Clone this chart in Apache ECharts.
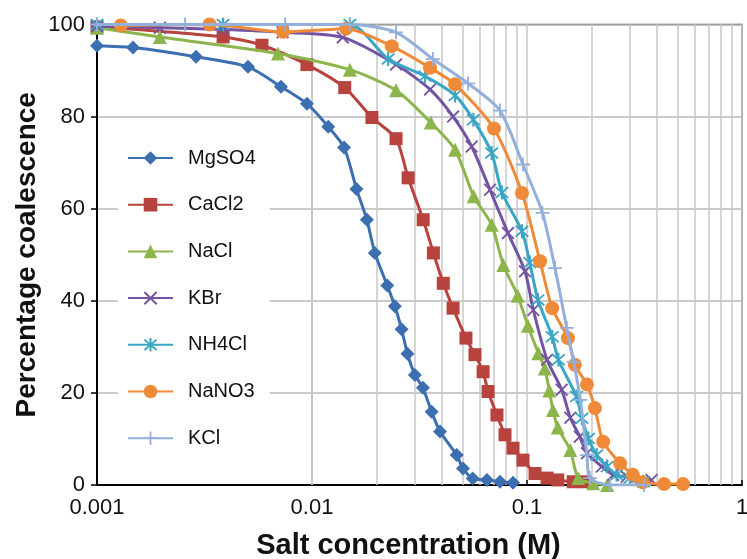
<!DOCTYPE html>
<html>
<head>
<meta charset="utf-8">
<script src="https://cdn.jsdelivr.net/npm/echarts@6/dist/echarts.min.js"></script>
<style>
html,body{margin:0;padding:0;background:#fff;}
#chart{width:747px;height:559px;}
</style>
</head>
<body>
<div id="chart"></div>
<script>
// ---------- data (concentration M, % coalescence) ----------
const seriesNames = ['MgSO4', 'CaCl2', 'NaCl', 'KBr', 'NH4Cl', 'NaNO3', 'KCl'];

const mgso4 = [[0.001,95.4],[0.00147,95.0],[0.00289,93.0],[0.00504,90.8],[0.00717,86.5],[0.00947,82.8],
  [0.0119,77.8],[0.0141,73.3],[0.0161,64.3],[0.018,57.6],[0.0196,50.4],[0.0224,43.3],[0.0243,38.8],
  [0.0261,33.8],[0.0278,28.5],[0.0301,23.9],[0.0328,21.1],[0.036,15.9],[0.0394,11.6],[0.0471,6.5],
  [0.0504,3.6],[0.0559,1.4],[0.0651,1.1],[0.0749,0.7],[0.0861,0.5]];

const cacl2 = [[0.001,99.5],[0.00386,97.3],[0.00585,95.5],[0.00947,91.3],[0.0142,86.3],[0.019,79.8],
  [0.0246,75.2],[0.028,66.7],[0.0329,57.6],[0.0367,50.4],[0.0408,43.8],[0.0453,38.4],[0.052,31.9],
  [0.0573,28.3],[0.0625,24.6],[0.0659,20.3],[0.0725,15.2],[0.079,10.9],[0.0861,8.0],[0.0958,5.4],
  [0.109,2.5],[0.124,1.5],[0.139,1.1],[0.164,0.7],[0.186,0.7]];

const nacl = [[0.001,99.3],[0.00196,97.3],[0.00695,93.7],[0.015,90.2],[0.0246,85.7],[0.0357,78.7],
  [0.0463,72.8],[0.0565,62.7],[0.0685,56.5],[0.0776,47.8],[0.0905,41.1],[0.101,34.6],[0.113,28.6],
  [0.121,25.3],[0.127,20.5],[0.132,16.3],[0.139,12.5],[0.159,7.6],[0.173,1.5],[0.203,0.4],[0.236,0]];

const kbr = [[0.001,99.6],[0.00196,99.3],[0.00386,98.9],[0.0073,98.3],[0.0139,97.2],[0.0246,91.3],
  [0.0354,85.9],[0.0453,80.0],[0.0553,73.5],[0.0673,64.1],[0.0816,54.7],[0.0979,46.4],[0.107,38.0],
  [0.124,27.2],[0.145,20.7],[0.159,14.6],[0.176,10.5],[0.19,6.9],[0.223,4.0],[0.252,2.2],[0.291,1.8],
  [0.38,1.1]];

const nh4cl = [[0.001,100],[0.00386,100],[0.015,100],[0.0226,92.5],[0.0335,88.8],[0.0463,84.6],
  [0.0563,79.3],[0.0685,72.1],[0.0765,63.5],[0.0948,55.1],[0.103,48.3],[0.1125,40.2],[0.131,32.2],
  [0.14,27.2],[0.17,19.2],[0.18,14.5],[0.193,10.1],[0.211,6.5],[0.236,4.0],[0.261,2.2],[0.301,1.5],
  [0.348,0.7]];

const nano3 = [[0.00129,99.8],[0.00334,100],[0.00733,98.4],[0.0144,99.1],[0.0235,95.3],[0.0354,90.6],
  [0.0463,87.0],[0.0702,77.4],[0.0948,63.4],[0.115,48.6],[0.131,38.4],[0.155,31.9],[0.167,26.1],
  [0.19,21.8],[0.207,16.7],[0.226,9.4],[0.271,4.7],[0.311,2.2],[0.345,0.6],[0.434,0.2],[0.532,0.2]];

const kcl = [[0.001,100],[0.00257,100],[0.0075,100],[0.015,100],[0.0246,98.3],[0.0365,92.5],
  [0.0532,87.2],[0.0749,81.3],[0.0958,69.6],[0.118,59.1],[0.135,47.1],[0.153,34.1],[0.165,26.7],
  [0.177,18.5],[0.19,6.5],[0.196,1.5],[0.243,0],[0.35,0]];

const xTickLabels = ['0.001', '0.01', '0.1', '1'];
const yTickLabels = ['0', '20', '40', '60', '80', '100'];
const minorGridValues = [0.002,0.003,0.004,0.005,0.006,0.007,0.008,0.009,
  0.02,0.03,0.04,0.05,0.06,0.07,0.08,0.09,0.2,0.3,0.4,0.5,0.6,0.7,0.8,0.9];

// ---------- styling ----------
const colors = ['#3c6fb0', '#b8423d', '#8cb54c', '#7353a2', '#3ba6c4', '#ef8a38', '#93afdc'];
const symX = 'path://M-6,-4.8L-4.8,-6L6,4.8L4.8,6Z M-4.8,6L-6,4.8L4.8,-6L6,-4.8Z';
const symAst = 'path://M-0.9,-7H0.9V7H-0.9Z M-6,-4.8L-4.8,-6L6,4.8L4.8,6Z M-4.8,6L-6,4.8L4.8,-6L6,-4.8Z';
const symPlus = 'path://M-0.9,-7H0.9V-0.9H7V0.9H0.9V7H-0.9V0.9H-7V-0.9H-0.9Z';
const symbols = ['diamond', 'rect', 'triangle', symX, symAst, 'circle', symPlus];
const symSizes = [14, 13, 14, 13, 14, 14, 14];
const dataSets = [mgso4, cacl2, nacl, kbr, nh4cl, nano3, kcl];
const FONT = '"Liberation Sans", Arial, sans-serif';

const series = seriesNames.map((name, i) => ({
  name: name,
  type: 'line',
  data: dataSets[i],
  smooth: 0.25,
  symbol: symbols[i],
  symbolSize: symSizes[i],
  showAllSymbol: true,
  lineStyle: { color: colors[i], width: 3 },
  itemStyle: { color: colors[i] },
  z: 3 + i * 0.01
}));

// minor vertical grid lines placed through the log axis
series.push({
  name: 'minorGrid',
  type: 'line',
  data: [],
  silent: true,
  markLine: {
    silent: true,
    symbol: 'none',
    z: 1,
    animation: false,
    label: { show: false },
    lineStyle: { color: '#c9c9c9', type: 'solid', width: 1.5 },
    data: minorGridValues.map(v => ({ xAxis: v }))
  }
});

const chart = echarts.init(document.getElementById('chart'));
chart.setOption({
  animation: false,
  backgroundColor: '#fff',
  textStyle: { fontFamily: FONT },
  grid: {
    left: 97, right: 5, top: 24.5, bottom: 74,
    outerBoundsMode: 'none', containLabel: false,
    show: true, borderColor: '#555', borderWidth: 1.5, backgroundColor: 'transparent'
  },
  legend: {
    data: seriesNames,
    orient: 'vertical',
    left: 118, top: 125,
    backgroundColor: '#fff',
    padding: [23, 14, 15, 9],
    itemWidth: 45, itemHeight: 17, itemGap: 26.7,
    textStyle: { fontSize: 20, color: '#111', fontFamily: FONT, lineHeight: 20, padding: [0, 0, 0, 10] }
  },
  xAxis: {
    type: 'log', logBase: 10, min: 0.001, max: 1,
    name: 'Salt concentration (M)', nameLocation: 'middle', nameGap: 46,
    nameMoveOverlap: false,
    nameTextStyle: { fontSize: 29, fontWeight: 'bold', color: '#111', fontFamily: FONT, padding: [0, 22, 0, 0] },
    axisLine: { lineStyle: { color: '#000', width: 2 } },
    axisTick: { show: true, inside: true, length: 5, lineStyle: { color: '#000', width: 1.5 } },
    axisLabel: {
      fontSize: 22, color: '#111', margin: 12, fontFamily: FONT,
      formatter: v => xTickLabels[Math.round(Math.log10(v)) + 3]
    },
    splitLine: { show: true, lineStyle: { color: '#c9c9c9', width: 1.5 } }
  },
  yAxis: {
    type: 'value', min: 0, max: 100, interval: 20,
    name: 'Percentage coalescence', nameLocation: 'middle', nameGap: 56,
    nameMoveOverlap: false,
    nameTextStyle: { fontSize: 28, fontWeight: 'bold', color: '#111', fontFamily: FONT },
    axisLine: { show: true, lineStyle: { color: '#000', width: 2 } },
    axisTick: { show: true, inside: false, length: 6, lineStyle: { color: '#000', width: 1.5 } },
    axisLabel: {
      fontSize: 22, color: '#111', margin: 12, fontFamily: FONT,
      formatter: v => yTickLabels[Math.round(v / 20)]
    },
    splitLine: { show: true, lineStyle: { color: '#b9b9b9', width: 1.5 } }
  },
  series: series
});
</script>
</body>
</html>
